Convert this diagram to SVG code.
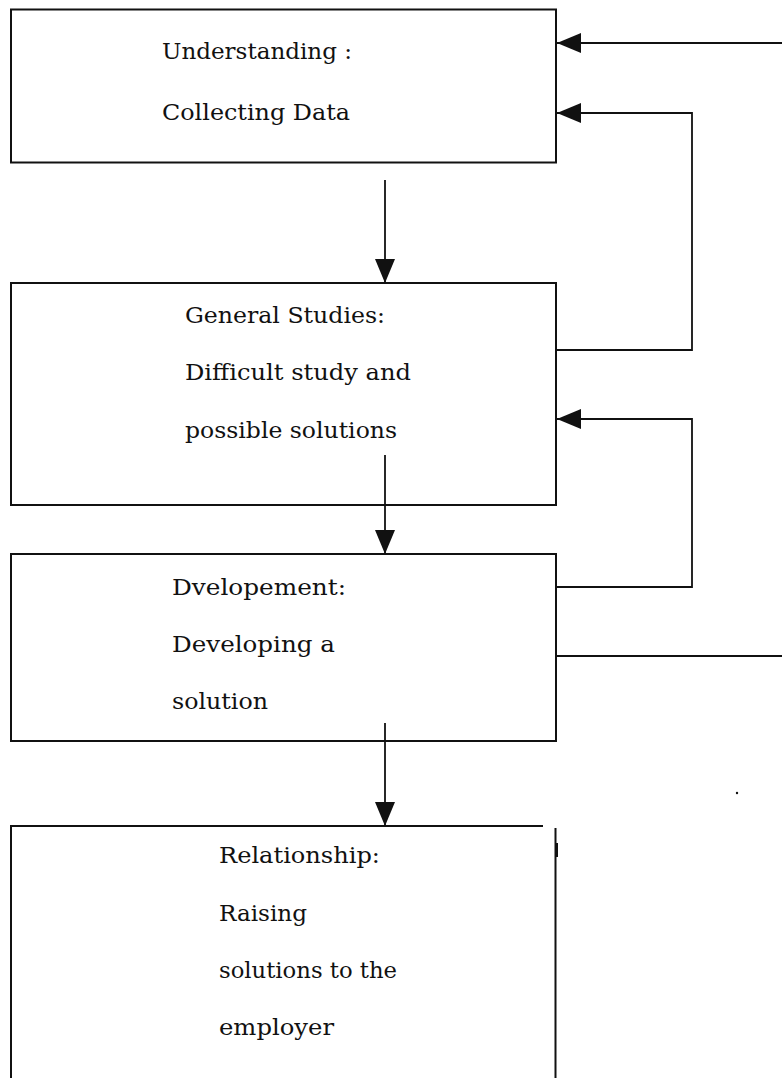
<svg xmlns="http://www.w3.org/2000/svg" width="782" height="1078" viewBox="0 0 782 1078">
<style>
.box{fill:#fff;stroke:#111;stroke-width:2}
.ln{fill:none;stroke:#111;stroke-width:1.8}
text{font-family:"DejaVu Serif","Liberation Serif",serif;font-size:22px;fill:#111}
</style>
<defs>
<marker id="ah" markerWidth="24" markerHeight="20" refX="24" refY="10" orient="auto" markerUnits="userSpaceOnUse">
<path d="M0,0 L24,10 L0,20 Z" fill="#111"/>
</marker>
</defs>
<rect width="782" height="1078" fill="#fff"/>
<g id="n1">
<rect class="box" x="11" y="9.5" width="545" height="153"/>
<text x="162" y="59" textLength="190" lengthAdjust="spacingAndGlyphs">Understanding :</text>
<text x="162" y="120" textLength="188" lengthAdjust="spacingAndGlyphs">Collecting Data</text>
</g>
<g id="n2">
<rect class="box" x="11" y="283" width="545" height="222"/>
<text x="185" y="323" textLength="200" lengthAdjust="spacingAndGlyphs">General Studies:</text>
<text x="185" y="380" textLength="226" lengthAdjust="spacingAndGlyphs">Difficult study and</text>
<text x="185" y="438" textLength="212" lengthAdjust="spacingAndGlyphs">possible solutions</text>
</g>
<g id="n3">
<rect class="box" x="11" y="554" width="545" height="187"/>
<text x="172" y="595" textLength="174" lengthAdjust="spacingAndGlyphs">Dvelopement:</text>
<text x="172" y="652" textLength="163" lengthAdjust="spacingAndGlyphs">Developing a</text>
<text x="172" y="709" textLength="96" lengthAdjust="spacingAndGlyphs">solution</text>
</g>
<g id="n4">
<path class="box" fill="none" d="M11,1080 L11,826 L543,826 M555.5,828 L555.5,1080"/>
<rect x="555" y="843" width="3" height="14" fill="#111"/>
<text x="219" y="863" textLength="161" lengthAdjust="spacingAndGlyphs">Relationship:</text>
<text x="219" y="921" textLength="88" lengthAdjust="spacingAndGlyphs">Raising</text>
<text x="219" y="978" textLength="178" lengthAdjust="spacingAndGlyphs">solutions to the</text>
<text x="219" y="1035" textLength="115" lengthAdjust="spacingAndGlyphs">employer</text>
</g>
<g id="connectors">
<line class="ln" x1="385" y1="180" x2="385" y2="283" marker-end="url(#ah)"/>
<line class="ln" x1="385" y1="455" x2="385" y2="554" marker-end="url(#ah)"/>
<line class="ln" x1="385" y1="723" x2="385" y2="826" marker-end="url(#ah)"/>
<line class="ln" x1="782" y1="43" x2="557" y2="43" marker-end="url(#ah)"/>
<polyline class="ln" points="556,350 692,350 692,113 557,113" marker-end="url(#ah)"/>
<polyline class="ln" points="556,587 692,587 692,419 557,419" marker-end="url(#ah)"/>
<line class="ln" x1="556" y1="656" x2="782" y2="656"/>
<circle cx="737" cy="793" r="1.2" fill="#111"/>
</g>
</svg>
